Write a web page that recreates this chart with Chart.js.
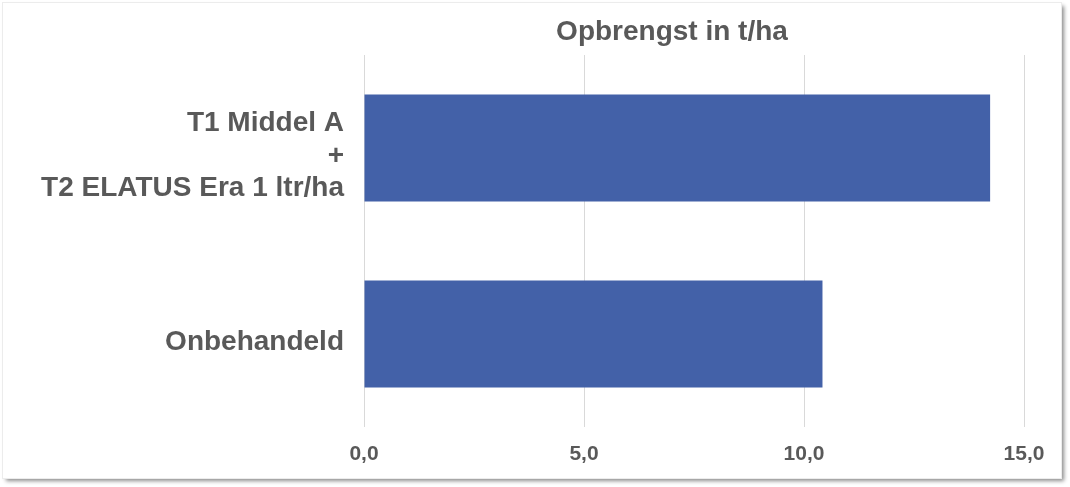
<!DOCTYPE html>
<html>
<head>
<meta charset="utf-8">
<script src="https://cdn.jsdelivr.net/npm/chart.js@4"></script>
<style>
	html, body { margin: 0; padding: 0; background: #ffffff; }
	#tarjeta {
		position: absolute;
		left: 3px; top: 3px;
		width: 1058px; height: 475px;
		background: #ffffff;
		box-shadow: 0 0 0 1px #ececec, 3px 3px 4px rgba(0,0,0,0.45);
	}
	#grafico { display: block; }
</style>
</head>
<body>
<div id="tarjeta">
	<canvas id="grafico" width="1058" height="475"></canvas>
</div>
<script>
const categorias = [["T1 Middel A", "+", "T2 ELATUS Era 1 ltr/ha"], "Onbehandeld"]
const opbrengst = [14.23, 10.42]
const ticksX = [0, 5, 10, 15]
const titulo = "Opbrengst in t/ha"

const gris = "#595959"
const fuente = "'Liberation Sans', Arial, sans-serif"

// titulo dibujado a mano, va un poco a la izquierda del centro del area
const tituloPlugin = {
	id: "tituloDesplazado",
	afterDraw: function(chart){
		const ctx = chart.ctx
		const area = chart.chartArea
		ctx.save()
		ctx.font = "bold 28px " + fuente
		ctx.fillStyle = gris
		ctx.textAlign = "center"
		ctx.textBaseline = "middle"
		ctx.fillText(titulo, (area.left + area.right) / 2 - 22, 29)
		ctx.restore()
	}
}

new Chart("grafico", {
	type: "bar",
	data: {
		labels: categorias,
		datasets: [{
			data: opbrengst,
			backgroundColor: "#4361A8",
			borderWidth: 0,
			barPercentage: 0.575,
			categoryPercentage: 1
		}]
	},
	options: {
		indexAxis: "y",
		responsive: false,
		animation: false,
		layout: {
			padding: {top: 52, right: 37, bottom: 0, left: 0}
		},
		plugins: {
			legend: {display: false},
			tooltip: {enabled: false},
			title: {display: false}
		},
		scales: {
			x: {
				min: 0,
				max: 15,
				afterBuildTicks: function(escala){
					escala.ticks = ticksX.map(v => ({value: v}))
				},
				afterFit: function(escala){
					escala.height = 51
				},
				grid: {color: "#d9d9d9", drawTicks: false, lineWidth: 1},
				border: {display: false},
				ticks: {
					color: gris,
					padding: 15,
					font: {family: fuente, size: 21, weight: "bold"},
					callback: function(valor){
						return valor.toFixed(1).replace(".", ",")
					}
				}
			},
			y: {
				afterFit: function(escala){
					escala.width = 361
					escala.paddingTop = 0
					escala.paddingBottom = 0
				},
				grid: {display: false, drawTicks: false},
				border: {display: false},
				ticks: {
					color: gris,
					padding: 20,
					labelOffset: 8,
					font: {family: fuente, size: 28, weight: "bold", lineHeight: 1.16}
				}
			}
		}
	},
	plugins: [tituloPlugin]
})
</script>
</body>
</html>
